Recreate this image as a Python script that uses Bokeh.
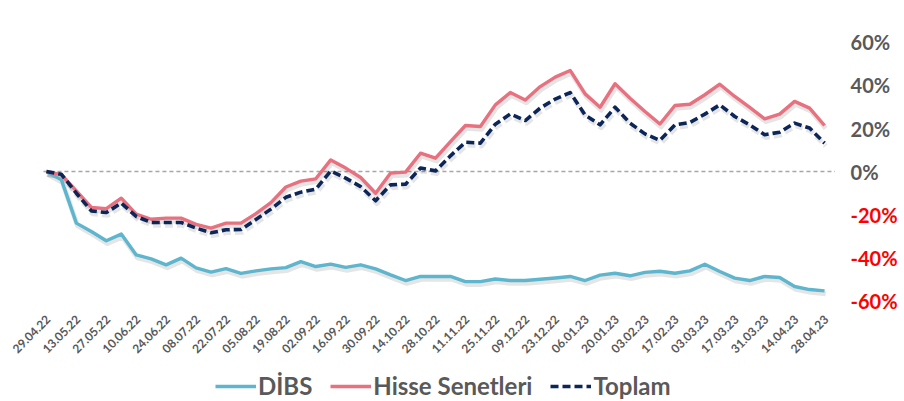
import math
import pandas as pd
from bokeh.plotting import figure
from bokeh.models import ColumnDataSource, Range1d, Legend, LegendItem
from bokeh.transform import dodge
from bokeh.core.properties import value
from bokeh.embed import file_html
from bokeh.resources import INLINE

# ---- data ----
dates = [d.strftime("%d.%m.%y") for d in pd.date_range("2022-04-29", "2023-04-28", freq="7D")]

dibs = [0, -3.9, -24.0, -27.9, -32.2, -29.1, -38.8, -40.6, -43.4, -40.3,
        -44.8, -46.8, -45.2, -47.4, -46.2, -45.3, -44.7, -41.9, -44.2, -43.1,
        -44.6, -43.4, -45.3, -48.1, -50.7, -48.8, -48.8, -48.8, -51.2, -51.2,
        -50.0, -50.7, -50.7, -50.1, -49.5, -48.8, -50.7, -48.2, -47.3, -48.5,
        -46.9, -46.4, -47.3, -46.2, -43.1, -46.5, -49.6, -50.7, -48.8, -49.3,
        -53.5, -54.9, -55.5]

hisse = [0, -1.5, -9.0, -16.7, -17.3, -12.4, -19.8, -22.2, -21.7, -21.7,
         -24.6, -26.3, -24.0, -24.0, -19.6, -14.5, -7.2, -4.5, -3.4, 5.4,
         1.6, -2.8, -10.1, -0.7, -0.3, 8.5, 6.2, 13.9, 21.4, 20.9,
         31.0, 36.7, 33.3, 39.5, 43.9, 47.0, 36.1, 29.9, 40.8, 34.1,
         27.9, 22.1, 30.7, 31.3, 35.7, 40.6, 34.9, 29.8, 24.5, 26.7,
         32.6, 29.5, 21.4]

toplam = [0, -1.3, -10.1, -18.3, -19.1, -14.7, -20.9, -23.7, -23.7, -23.7,
          -26.3, -28.5, -27.1, -27.0, -22.3, -17.5, -12.0, -9.6, -8.2, 0.3,
          -3.1, -7.0, -13.6, -6.2, -5.9, 1.6, 0.3, 7.3, 13.6, 13.2,
          22.0, 26.8, 23.7, 29.5, 33.7, 36.7, 26.3, 21.7, 29.9, 22.5,
          17.5, 14.5, 21.7, 22.8, 26.7, 31.0, 25.6, 21.7, 17.1, 18.3,
          22.5, 20.2, 13.2]

series_names = ["DİBS", "Hisse Senetleri", "Toplam"]
y_ticks = [60, 40, 20, 0, -20, -40, -60]
y_tick_labels = ["60%", "40%", "20%", "0%", "-20%", "-40%", "-60%"]

# ---- styling ----
C_DIBS = "#5DB6CD"
C_HISSE = "#E8707F"
C_TOPLAM = "#0C2658"
GREY = "#595959"
FONT = "Lato"

n = len(dates)
idx = list(range(n))
src = ColumnDataSource(dict(x=idx, dibs=dibs, hisse=hisse, toplam=toplam))

p = figure(frame_width=902, frame_height=400,
           x_range=Range1d(-3.07, 57.21), y_range=Range1d(-106.5, 79.53),
           output_backend="svg", toolbar_location=None,
           min_border_left=0, min_border_right=0, min_border_top=0, min_border_bottom=0,
           outline_line_color=None, background_fill_color="white")
p.grid.visible = False
p.xaxis.visible = False
p.yaxis.visible = False

# zero line
p.segment(x0=[-0.2], y0=[0], x1=[n - 1 + 0.7], y1=[0], line_color="#A6A6A6",
          line_width=1.5, line_dash="4 3")

# shadows
for col, dash in (("dibs", "solid"), ("hisse", "solid"), ("toplam", "8 4")):
    p.line(x=dodge("x", 0.08, range=p.x_range), y=dodge(col, -1.3, range=p.y_range),
           source=src, line_color="black", line_alpha=0.10, line_width=5,
           line_dash=dash, line_join="round")

r_dibs = p.line("x", "dibs", source=src, line_color=C_DIBS, line_width=3.4, line_join="round")
r_hisse = p.line("x", "hisse", source=src, line_color=C_HISSE, line_width=3.4, line_join="round")
r_top = p.line("x", "toplam", source=src, line_color=C_TOPLAM, line_width=3.6,
               line_dash="8 4", line_join="round")

# y tick labels on the right
lab_src = ColumnDataSource(dict(
    x=[n - 1] * len(y_ticks), y=y_ticks, t=y_tick_labels,
    c=[GREY if v >= 0 else "#FF0000" for v in y_ticks]))
p.text(x="x", y="y", text="t", source=lab_src, text_color="c", x_offset=26,
       text_align="left", text_baseline="middle", text_font=value(FONT),
       text_font_style="bold", text_font_size="20px")

# x tick labels (every second week), rotated
xt_src = ColumnDataSource(dict(x=idx[::2], y=[min(y_ticks)] * len(idx[::2]),
                               t=dates[::2]))
p.text(x="x", y="y", text="t", source=xt_src, x_offset=2, y_offset=17,
       angle=math.pi / 4, text_align="right", text_baseline="middle",
       text_color=GREY, text_font=value(FONT), text_font_style="bold",
       text_font_size="12px")

legend = Legend(items=[LegendItem(label=series_names[0], renderers=[r_dibs]),
                       LegendItem(label=series_names[1], renderers=[r_hisse]),
                       LegendItem(label=series_names[2], renderers=[r_top])],
                orientation="horizontal", location=(215, 0),
                label_text_font=FONT, label_text_font_style="bold",
                label_text_font_size="24px", label_text_color=GREY,
                glyph_width=41, glyph_height=26, label_height=26,
                label_standoff=2, spacing=18,
                padding=0, margin=0, border_line_alpha=0, background_fill_alpha=0)
p.add_layout(legend, "center")

open("out.html", "w").write(file_html(p, INLINE))
